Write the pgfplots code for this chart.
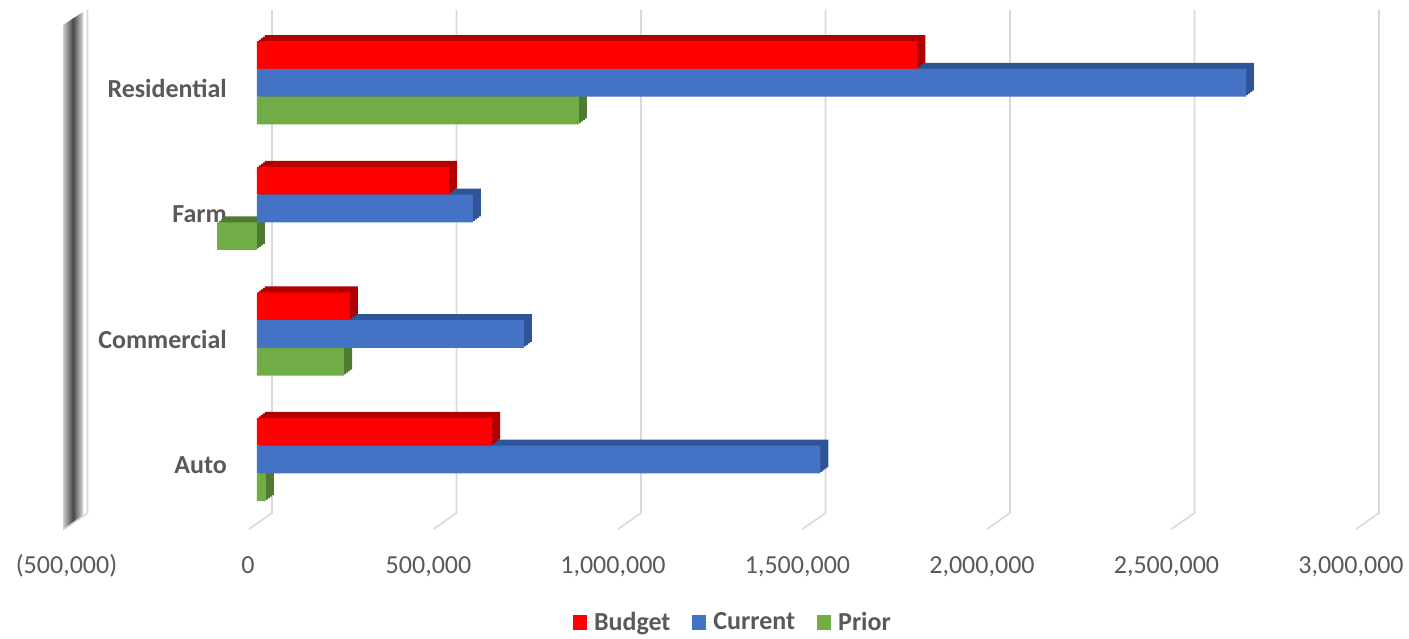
\documentclass[border=0pt]{standalone}
\usepackage{pgfplots}
\pgfplotsset{compat=1.18}
\usepackage{pgfplotstable}
\usepackage{fontspec}
\setmainfont{Carlito}
\definecolor{txt}{HTML}{595959}
\definecolor{gridc}{HTML}{D9D9D9}
\definecolor{cB}{HTML}{FF0000}
\definecolor{cBd}{HTML}{B00000}
\definecolor{cC}{HTML}{4472C4}
\definecolor{cCd}{HTML}{2F5597}
\definecolor{cP}{HTML}{70AD47}
\definecolor{cPd}{HTML}{4E7A31}
\pgfplotstableread{
Y B C P
0 637000 1527000 24000
1 252000 723000 236000
2 520000 585000 -108000
3 1790000 2680000 872000
}\data
\begin{document}
\begin{tikzpicture}
\useasboundingbox (0,0) rectangle (1409pt,639pt);
% left wall
\shade[left color=black!20, right color=black!15, middle color=black!72] (63pt,614pt) -- (83pt,627pt) -- (83pt,122pt) -- (63pt,109pt) -- cycle;
\begin{axis}[
  at={(72.5pt,116.8pt)}, anchor=south west,
  scale only axis, width=1291.5pt, height=502.1pt,
  xmin=-500000, xmax=3000000, ymin=-0.5, ymax=3.5,
  clip=false, scaled x ticks=false,
  axis line style={draw=none}, tick style={draw=none},
  xtick={-500000,0,500000,1000000,1500000,2000000,2500000,3000000},
  xticklabels={{\hspace*{14pt}(500,000)},{\hspace*{8pt}0},{500,000},{1,000,000},{1,500,000},{2,000,000},{2,500,000},{3,000,000}},
  xticklabel style={font=\fontsize{26}{30}\selectfont, text=txt, anchor=base, inner sep=0pt, xshift=-13pt, yshift=-51pt},
  ytick={0,1,2,3},
  yticklabels={Auto,Commercial,Farm,Residential},
  yticklabel style={font=\bfseries\fontsize{26}{30}\selectfont, text=txt, anchor=base east, inner sep=0pt, xshift=154.5pt, yshift=-14.5pt},
  legend style={draw=none, fill=none, at={(0.511,-0.1988)}, anchor=center,
    legend columns=3, font=\bfseries\fontsize{26}{30}\selectfont\color{txt},
    nodes={inner sep=1pt},
    /tikz/every even column/.append style={column sep=21pt}},
  legend image code/.code={\path (0pt,0pt) -- (20pt,0pt); \fill[#1] (0pt,-8pt) rectangle (14pt,7pt);},
]
% gridlines
\pgfplotsinvokeforeach{-500000,0,500000,1000000,1500000,2000000,2500000,3000000}{
  \draw[gridc, line width=1.6pt] ([xshift=-8pt]axis cs:#1,-0.555) -- ([xshift=15pt]axis cs:#1,-0.427) -- ([xshift=15pt]axis cs:#1,3.581);
}
% 3D depth (shadow) bars
\addplot[xbar, bar width=0.221, bar shift=-0.221, fill=cPd, draw=none, forget plot, xshift=2pt, yshift=1.5pt] table[x=P,y=Y]{\data};
\addplot[xbar, bar width=0.221, bar shift=-0.221, fill=cPd, draw=none, forget plot, xshift=4pt, yshift=3pt] table[x=P,y=Y]{\data};
\addplot[xbar, bar width=0.221, bar shift=-0.221, fill=cPd, draw=none, forget plot, xshift=6pt, yshift=4.5pt] table[x=P,y=Y]{\data};
\addplot[xbar, bar width=0.221, bar shift=-0.221, fill=cPd, draw=none, forget plot, xshift=8pt, yshift=6pt] table[x=P,y=Y]{\data};
\addplot[xbar, bar width=0.221, bar shift=0, fill=cCd, draw=none, forget plot, xshift=2pt, yshift=1.5pt] table[x=C,y=Y]{\data};
\addplot[xbar, bar width=0.221, bar shift=0, fill=cCd, draw=none, forget plot, xshift=4pt, yshift=3pt] table[x=C,y=Y]{\data};
\addplot[xbar, bar width=0.221, bar shift=0, fill=cCd, draw=none, forget plot, xshift=6pt, yshift=4.5pt] table[x=C,y=Y]{\data};
\addplot[xbar, bar width=0.221, bar shift=0, fill=cCd, draw=none, forget plot, xshift=8pt, yshift=6pt] table[x=C,y=Y]{\data};
\addplot[xbar, bar width=0.221, bar shift=0.221, fill=cBd, draw=none, forget plot, xshift=2pt, yshift=1.5pt] table[x=B,y=Y]{\data};
\addplot[xbar, bar width=0.221, bar shift=0.221, fill=cBd, draw=none, forget plot, xshift=4pt, yshift=3pt] table[x=B,y=Y]{\data};
\addplot[xbar, bar width=0.221, bar shift=0.221, fill=cBd, draw=none, forget plot, xshift=6pt, yshift=4.5pt] table[x=B,y=Y]{\data};
\addplot[xbar, bar width=0.221, bar shift=0.221, fill=cBd, draw=none, forget plot, xshift=8pt, yshift=6pt] table[x=B,y=Y]{\data};
% front faces
\addplot[xbar, bar width=0.221, bar shift=0.221, fill=cB, draw=none, forget plot] table[x=B,y=Y]{\data};
\addplot[xbar, bar width=0.221, bar shift=0, fill=cC, draw=none, forget plot] table[x=C,y=Y]{\data};
\addplot[xbar, bar width=0.221, bar shift=-0.221, fill=cP, draw=none, forget plot] table[x=P,y=Y]{\data};
\addlegendimage{fill=cB, draw=none}
\addlegendentry{Budget}
\addlegendimage{fill=cC, draw=none}
\addlegendentry{Current}
\addlegendimage{fill=cP, draw=none}
\addlegendentry{Prior}
\end{axis}
\end{tikzpicture}
\end{document}
